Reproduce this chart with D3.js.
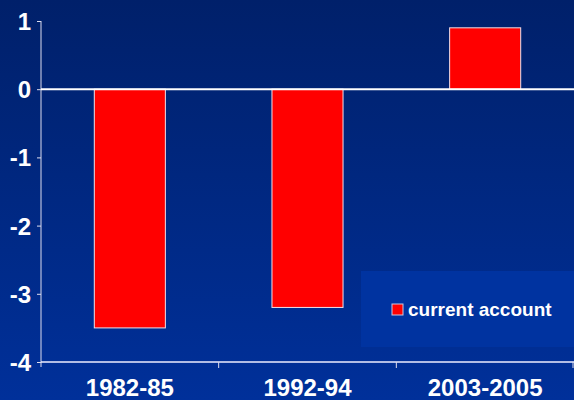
<!DOCTYPE html>
<html>
<head>
<meta charset="utf-8">
<script src="https://cdn.jsdelivr.net/npm/d3@7"></script>
<style>
  html, body { margin: 0; padding: 0; background: #00246e; }
  svg { display: block; font-family: "Liberation Sans", Arial, sans-serif; }
</style>
</head>
<body>
<svg id="chart" width="574" height="400"></svg>
<script>
// Chart data
const periods = ["1982-85", "1992-94", "2003-2005"];
const currentAccount = [-3.5, -3.2, 0.9];
const yTicks = [1, 0, -1, -2, -3, -4];
const seriesName = "current account";

const svg = d3.select("#chart");
const width = 574, height = 400;
const margin = { top: 21, right: 0, bottom: 38, left: 41 };

// Background gradient
const defs = svg.append("defs");
const grad = defs.append("linearGradient")
  .attr("id", "bg").attr("x1", 0).attr("y1", 0).attr("x2", 0).attr("y2", 1);
grad.append("stop").attr("offset", "0%").attr("stop-color", "#00206a");
grad.append("stop").attr("offset", "100%").attr("stop-color", "#00309a");
svg.append("rect").attr("width", width).attr("height", height).attr("fill", "url(#bg)");

const x = d3.scaleBand()
  .domain(periods)
  .range([margin.left, width - margin.right])
  .paddingInner(0).paddingOuter(0);

const y = d3.scaleLinear()
  .domain([-4, 1])
  .range([height - margin.bottom, margin.top]);

// Legend box (drawn behind bars)
const legend = svg.append("g");
legend.append("rect")
  .attr("x", 361).attr("y", 271)
  .attr("width", width - 361).attr("height", 76)
  .attr("fill", "#0033a0");
legend.append("rect")
  .attr("x", 392).attr("y", 304)
  .attr("width", 11).attr("height", 11)
  .attr("fill", "#ff0000").attr("stroke", "#c8c8e0").attr("stroke-width", 1);
legend.append("text")
  .attr("x", 408).attr("y", 316)
  .attr("fill", "#fff").attr("font-size", 19).attr("font-weight", "bold")
  .text(seriesName);

// Bars
const barW = x.bandwidth() * 0.4;
svg.append("g")
  .selectAll("rect")
  .data(periods)
  .join("rect")
  .attr("x", (d) => x(d) + (x.bandwidth() - barW) / 2)
  .attr("y", (d, i) => y(Math.max(0, currentAccount[i])))
  .attr("width", barW)
  .attr("height", (d, i) => Math.abs(y(currentAccount[i]) - y(0)))
  .attr("fill", "#ff0000")
  .attr("stroke", "#f0e0e8")
  .attr("stroke-width", 1);

// Y axis
const yAxis = svg.append("g")
  .attr("transform", `translate(${margin.left},0)`)
  .call(d3.axisLeft(y).tickValues(yTicks).tickSize(4).tickSizeOuter(0)
    .tickFormat((d) => String(d)));
yAxis.select(".domain").remove();
yAxis.append("line")
  .attr("x1", 0).attr("x2", 0)
  .attr("y1", y(1)).attr("y2", y(-4) + 5)
  .attr("stroke", "#dde");
yAxis.selectAll(".tick line").attr("stroke", "#dde");
yAxis.selectAll(".tick text")
  .attr("fill", "#fff").attr("font-size", 24).attr("font-weight", "bold")
  .attr("x", -10).attr("dy", "0.35em")
  .style("font-family", "'Liberation Sans', Arial, sans-serif");

// Zero line
svg.append("line")
  .attr("x1", margin.left).attr("x2", width)
  .attr("y1", y(0)).attr("y2", y(0))
  .attr("stroke", "#fff").attr("stroke-width", 2);

// X axis at bottom
const xAxis = svg.append("g")
  .attr("transform", `translate(0,${y(-4)})`);
xAxis.append("line")
  .attr("x1", margin.left).attr("x2", width)
  .attr("stroke", "#eef").attr("stroke-width", 1.5);
xAxis.selectAll(".sep")
  .data(periods.slice(1).concat(["end"]))
  .join("line")
  .attr("x1", (d, i) => margin.left + x.bandwidth() * (i + 1) - (i === 2 ? 1 : 0))
  .attr("x2", (d, i) => margin.left + x.bandwidth() * (i + 1) - (i === 2 ? 1 : 0))
  .attr("y1", 0).attr("y2", 6)
  .attr("stroke", "#dde");
xAxis.selectAll("text")
  .data(periods)
  .join("text")
  .attr("x", (d) => x(d) + x.bandwidth() / 2)
  .attr("y", 34)
  .attr("text-anchor", "middle")
  .attr("fill", "#fff").attr("font-size", 24).attr("font-weight", "bold")
  .text((d) => d);
</script>
</body>
</html>
